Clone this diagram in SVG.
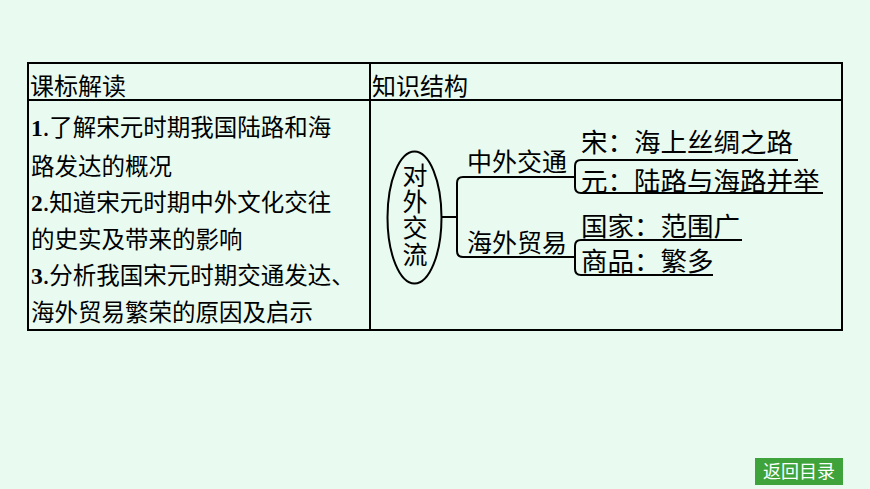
<svg xmlns="http://www.w3.org/2000/svg" width="870" height="489" viewBox="0 0 870 489">
<style>
text{font-family:"Noto Sans CJK SC","Liberation Sans",sans-serif;font-size:23.5px;fill:#000}
.r{font-size:26.5px}
.e{font-size:25px;text-anchor:middle}
.n{font-family:"Liberation Serif",serif;font-weight:bold}
.l{fill:none;stroke:#000;stroke-width:2}
</style>
<rect width="870" height="489" fill="#E9FBF1"/>
<g id="table">
<rect x="28" y="63" width="814" height="267" class="l"/>
<line x1="28" y1="100" x2="842" y2="100" class="l"/>
<line x1="370" y1="63" x2="370" y2="330" class="l"/>
<text x="30" y="95" style="font-size:24px">课标解读</text>
<text x="372" y="95" style="font-size:24px">知识结构</text>
<text x="31" y="136"><tspan class="n">1</tspan>.了解宋元时期我国陆路和海</text>
<text x="31" y="175">路发达的概况</text>
<text x="31" y="211"><tspan class="n">2</tspan>.知道宋元时期中外文化交往</text>
<text x="31" y="248">的史实及带来的影响</text>
<text x="31" y="284"><tspan class="n">3</tspan>.分析我国宋元时期交通发达、</text>
<text x="31" y="321">海外贸易繁荣的原因及启示</text>
</g>
<g id="root"><ellipse cx="414.5" cy="217.5" rx="27" ry="66" class="l"/>
<text class="e" x="415" y="185">对</text><text class="e" x="415" y="211">外</text><text class="e" x="415" y="237">交</text><text class="e" x="415" y="264">流</text></g>
<g id="connectors">
<line x1="442" y1="217" x2="457" y2="217" class="l"/>
<path d="M575,177 H463 Q457,177 457,183 V251 Q457,257 463,257 H575" class="l"/>
<path d="M798,160 H581 Q575,160 575,166 V187 Q575,193 581,193 H823" class="l"/>
<path d="M742,240 H581 Q575,240 575,246 V269 Q575,275 581,275 H713" class="l"/>
</g>
<g id="n1"><text class="e" x="517" y="171">中外交通</text></g>
<g id="n2"><text class="e" x="517" y="252">海外贸易</text></g>
<g id="n3"><text class="r" x="581" y="152">宋：海上丝绸之路</text></g>
<g id="n4"><text class="r" x="581" y="191">元：陆路与海路并举</text></g>
<g id="n5"><text class="r" x="581" y="236">国家：范围广</text></g>
<g id="n6"><text class="r" x="581" y="271">商品：繁多</text></g>
<g id="btn"><rect x="755" y="458" width="88" height="27" fill="#3EA33B"/>
<text x="799" y="478" text-anchor="middle" style="fill:#fff;font-size:18px">返回目录</text></g>
</svg>
